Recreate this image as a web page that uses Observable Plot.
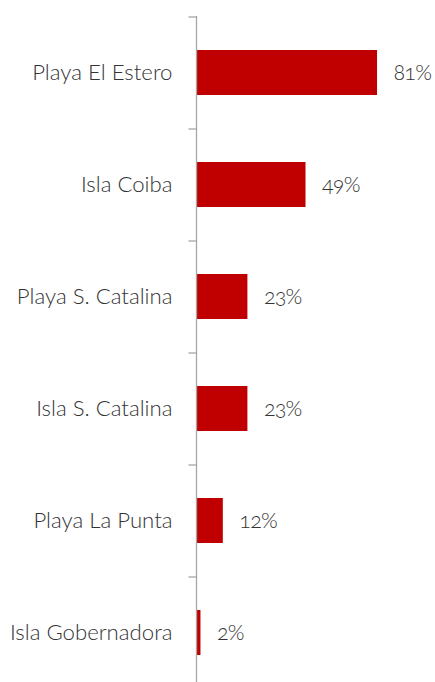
<!DOCTYPE html>
<html><head><meta charset="utf-8">
<script src="https://cdn.jsdelivr.net/npm/d3@7"></script>
<script src="https://cdn.jsdelivr.net/npm/@observablehq/plot@0.6"></script>
<style>
html,body{margin:0;padding:0;background:#fff;}
#chart svg{display:block;font-family:Lato,"Open Sans",sans-serif;font-variant-numeric:oldstyle-nums;font-weight:300;}
#chart svg .vals text{letter-spacing:-0.8px;}
</style></head>
<body><div id="chart"></div>
<script>
const categories = ["Playa El Estero","Isla Coiba","Playa S. Catalina","Isla S. Catalina","Playa La Punta","Isla Gobernadora"];
const values = [81, 49, 23, 23, 12, 2];
const data = categories.map((c,i)=>({cat:c, v:values[i]}));
const bandStep = 112;
const chart = Plot.plot({
  width: 435, height: 682,
  marginLeft: 196, marginRight: 15.5, marginTop: 16, marginBottom: 0,
  style: {fontFamily: "Lato, 'Open Sans', sans-serif", fontSize: "22px", color: "#333333", overflow: "visible"},
  x: {domain: [0, 100], axis: null},
  y: {domain: categories, range: [16, 16 + bandStep*categories.length], paddingInner: 0.6, paddingOuter: 0.3, align: 0.5},
  marks: [
    Plot.barX(data, {x: "v", y: "cat", fill: "#C00000"}),
    Plot.ruleX([0], {stroke: "#a6a6a6", strokeWidth: 1.3}),
    Plot.ruleY(categories, {y: d=>d, x1: -3.4, x2: 0, stroke: "#a6a6a6", strokeWidth: 1.3, dy: -bandStep/2}),
    Plot.axisY({tickSize: 0, tickPadding: 24, fontSize: 22.2, fill: "#333333", label: null}),
    Plot.text(data, {x: "v", y: "cat", text: d=>d.v + "%", textAnchor: "start", dx: 16, fontSize: 21.5, fill: "#333333", className: "vals"})
  ]
});
document.getElementById("chart").appendChild(chart);
</script></body></html>
